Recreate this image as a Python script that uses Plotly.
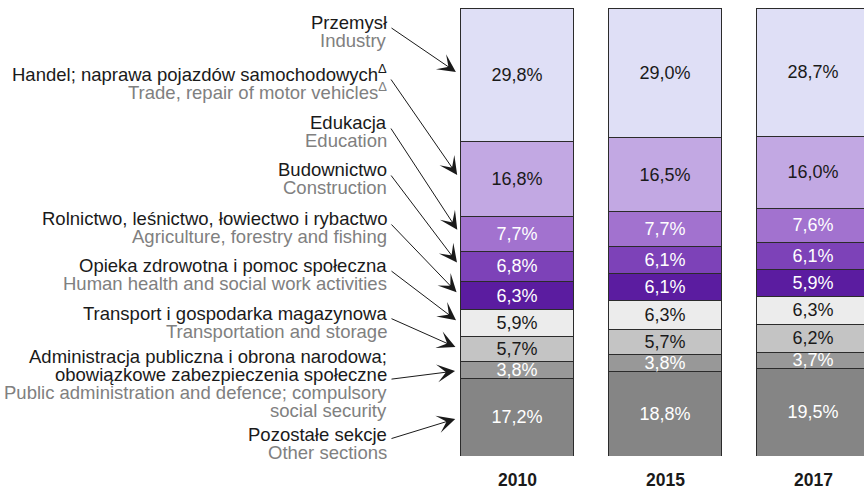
import plotly.graph_objects as go

# ---------------- data ----------------
years = ["2010", "2015", "2017"]

labels_pl = [
    ["Przemysł"],
    ["Handel; naprawa pojazdów samochodowych<sup>Δ</sup>"],
    ["Edukacja"],
    ["Budownictwo"],
    ["Rolnictwo, leśnictwo, łowiectwo i rybactwo"],
    ["Opieka zdrowotna i pomoc społeczna"],
    ["Transport i gospodarka magazynowa"],
    ["Administracja publiczna i obrona narodowa;", "obowiązkowe zabezpieczenia społeczne"],
    ["Pozostałe sekcje"],
]
labels_en = [
    ["Industry"],
    ["Trade, repair of motor vehicles<sup>Δ</sup>"],
    ["Education"],
    ["Construction"],
    ["Agriculture, forestry and fishing"],
    ["Human health and social work activities"],
    ["Transportation and storage"],
    ["Public administration and defence; compulsory", "social security"],
    ["Other sections"],
]

v2010 = [29.8, 16.8, 7.7, 6.8, 6.3, 5.9, 5.7, 3.8, 17.2]
v2015 = [29.0, 16.5, 7.7, 6.1, 6.1, 6.3, 5.7, 3.8, 18.8]
v2017 = [28.7, 16.0, 7.6, 6.1, 5.9, 6.3, 6.2, 3.7, 19.5]

# ---------------- styles ----------------
seg_colors = ["#dfdff6", "#c2a8e3", "#a272cf", "#7d42b8", "#5b1ca0",
              "#ececec", "#c4c4c4", "#989898", "#858585"]
txt_colors = ["#1a1a1a", "#1a1a1a", "#ffffff", "#ffffff", "#ffffff",
              "#1a1a1a", "#1a1a1a", "#ffffff", "#ffffff"]

FONT = "Liberation Sans, Arial, sans-serif"
W, H = 864, 490
T, B = 8, 34
PX_UNIT = 148.0          # pixels per category step
X1_PX = 665.0            # pixel centre of the middle bar
XR0 = 1 - X1_PX / PX_UNIT
XR1 = XR0 + W / PX_UNIT
BAR_W = 0.77
LABEL_SIZE = 18.5

def px_to_x(px):
    return XR0 + px / PX_UNIT

def py_to_y(py):
    return (H - B - py) / (H - T - B) * 100.0

def py_to_paper(py):
    return (H - B - py) / (H - T - B)

def fmt(v):
    return f"{v:.1f}".replace(".", ",") + "%"

fig = go.Figure()

xs = list(range(len(years)))
series = [v2010, v2015, v2017]
n = len(v2010)
# stack from bottom (last section) to top (first section)
for i in reversed(range(n)):
    vals = [s[i] for s in series]
    fig.add_trace(go.Bar(
        x=xs, y=vals, width=BAR_W,
        marker=dict(color=seg_colors[i], line=dict(color="#2b2b2b", width=1)),
        text=[fmt(v) for v in vals],
        textposition="inside", insidetextanchor="middle", textangle=0,
        textfont=dict(family=FONT, size=18, color=txt_colors[i]),
        hoverinfo="skip", showlegend=False,
    ))

annotations = []

# year labels
for xi, yr in zip(xs, years):
    annotations.append(dict(
        x=xi, y=0, xref="x", yref="paper", yshift=-24,
        text=f"<b>{yr}</b>", showarrow=False, xanchor="center", yanchor="middle",
        font=dict(family=FONT, size=17.5, color="#1a1a1a"),
    ))

# left-side labels
group_y = [22, 73, 122, 169, 218, 265, 313, 356, 434]
PITCH = 18.3
RIGHT_PX = 389
for g in range(n):
    y0 = group_y[g]
    lines = [(t, "#1a1a1a") for t in labels_pl[g]] + [(t, "#808080") for t in labels_en[g]]
    for k, (t, c) in enumerate(lines):
        annotations.append(dict(
            x=RIGHT_PX / W, y=py_to_paper(y0 + k * PITCH), xref="paper", yref="paper",
            text=t, showarrow=False, xanchor="right", yanchor="middle",
            font=dict(family=FONT, size=LABEL_SIZE, color=c),
        ))

# arrows from labels to the 2010 bar segments
top = sum(v2010)
cum = 0.0
for g in range(n):
    mid = top - cum - v2010[g] / 2.0
    cum += v2010[g]
    tail_py = group_y[g] + (len(labels_pl[g]) - 1) * PITCH + 5
    annotations.append(dict(
        x=xs[0] - BAR_W / 2, y=mid, xref="x", yref="y",
        ax=px_to_x(RIGHT_PX + 1), ay=py_to_y(tail_py), axref="x", ayref="y",
        text="", showarrow=True, arrowhead=3, arrowsize=3.0, arrowwidth=1.0,
        arrowcolor="#1a1a1a", standoff=5,
    ))

fig.update_layout(
    width=W, height=H,
    margin=dict(l=0, r=0, t=T, b=B),
    barmode="stack",
    plot_bgcolor="white", paper_bgcolor="white",
    xaxis=dict(range=[XR0, XR1], visible=False, fixedrange=True),
    yaxis=dict(range=[0, 100], visible=False, fixedrange=True),
    uniformtext=dict(minsize=18, mode="show"),
    annotations=annotations,
    font=dict(family=FONT),
)

fig.write_html(
    "out.html",
    config={"displayModeBar": False},
    post_script="document.body.style.margin='0';document.body.style.overflow='hidden';",
)
